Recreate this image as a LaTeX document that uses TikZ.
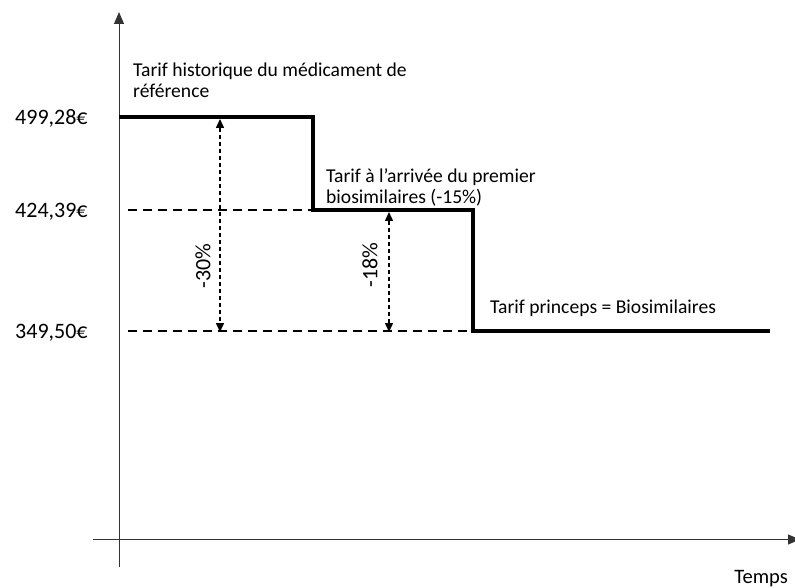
\documentclass[tikz,border=0pt]{standalone}
\usepackage{fontspec}
\setmainfont{Carlito}
\usetikzlibrary{arrows.meta}
\tikzset{
  lbl/.style={font=\fontsize{19.6}{21}\selectfont, inner sep=0pt},
  big/.style={font=\fontsize{22}{24}\selectfont, inner sep=0pt},
  steps/.style={line width=4pt, line join=miter},
  guide/.style={line width=2pt, dash pattern=on 9pt off 6pt},
  gap/.style={line width=1.5pt, dash pattern=on 4pt off 3pt, {Triangle[width=8pt,length=9pt]}-{Triangle[width=8pt,length=9pt]}},
  axis/.style={line width=1pt, draw=black!80}
}
\begin{document}
\begin{tikzpicture}[x=1pt,y=-1pt]
\useasboundingbox (0,0) rectangle (795,588);
% axes
\coordinate (yb) at (119,567);
\coordinate (yt) at (119,12);
\coordinate (xl) at (93,539.5);
\coordinate (xr) at (800,539.5);
\draw[axis,-{Triangle[width=10pt,length=12pt]}] (yb) -- (yt);
\draw[axis,-{Triangle[width=10pt,length=12pt]}] (xl) -- (xr);
% step line
\coordinate (s0) at (119,117);
\coordinate (s1) at (313,117);
\coordinate (s2) at (313,210);
\coordinate (s3) at (473,210);
\coordinate (s4) at (473,331);
\coordinate (s5) at (770,331);
\draw[steps] (s0) -- (s1) -- (s2) -- (s3) -- (s4) -- (s5);
% guides
\coordinate (g1) at (128,210);
\coordinate (g2) at (128,331);
\draw[guide] (g1) -- (s2);
\draw[guide] (g2) -- (s4);
% gap arrows
\coordinate (a1t) at (220,119);
\coordinate (a1b) at (220,332);
\coordinate (a2t) at (389,212);
\coordinate (a2b) at (389,332);
\draw[gap] (a1t) -- (a1b);
\draw[gap] (a2t) -- (a2b);
\node[big, rotate=90] (p30) at (203,266) {-30\%};
\node[big, rotate=90] (p18) at (370,265) {-18\%};
% price labels
\node[big, anchor=west] (v1) at (15,118) {499,28€};
\node[big, anchor=west] (v2) at (15,212) {424,39€};
\node[big, anchor=west] (v3) at (15,333) {349,50€};
% texts
\node[lbl, anchor=base west] (t1a) at (133,77) {Tarif historique du médicament de};
\node[lbl, anchor=base west] (t1b) at (133,98) {référence};
\node[lbl, anchor=base west] (t2a) at (326,183) {Tarif à l’arrivée du premier};
\node[lbl, anchor=base west] (t2b) at (326,204) {biosimilaires (-15\%)};
\node[lbl, anchor=base west] (t3) at (490,313) {Tarif princeps = Biosimilaires};
\node[lbl, font=\fontsize{20.5}{22}\selectfont, anchor=base east] (tx) at (788,583) {Temps};
\end{tikzpicture}
\end{document}
